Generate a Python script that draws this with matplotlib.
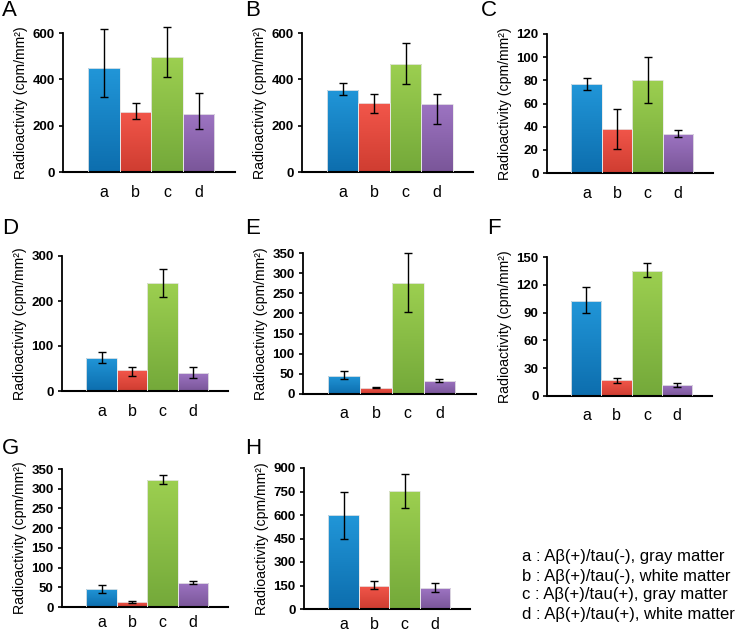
import numpy as np
import matplotlib
matplotlib.use("Agg")
import matplotlib.pyplot as plt
from matplotlib.colors import LinearSegmentedColormap

plt.rcParams["font.family"] = ["Liberation Sans", "DejaVu Sans"]

# ---- data ----
groups = ["a", "b", "c", "d"]
panels = ["A", "B", "C", "D", "E", "F", "G", "H"]

means = [
    [448, 260, 496, 249],   # A
    [355, 296, 468, 295],   # B
    [76.6, 38.2, 80.1, 34.1],  # C
    [74, 46, 240, 40],      # D
    [45, 16, 275, 33],      # E
    [103, 17, 135, 12],     # F
    [46, 13, 321, 62],      # G
    [597, 149, 753, 132],   # H
]
err_top = [
    [617, 296, 625, 340],
    [384, 337, 557, 338],
    [82.1, 55.2, 100.1, 37.0],
    [87, 53, 272, 53],
    [57, 17, 349, 37],
    [118, 19, 143, 14],
    [56, 14, 334, 65],
    [746, 179, 859, 164],
]
err_bottom = [
    [325, 228, 412, 187],
    [331, 255, 381, 209],
    [71.7, 20.5, 60.7, 31.2],
    [63, 33, 210, 28],
    [37, 14, 203, 31],
    [90, 14, 128, 10],
    [36, 11, 311, 59],
    [448, 128, 644, 107],
]
y_max = [600, 600, 120, 300, 350, 150, 350, 900]
y_step = [200, 200, 20, 100, 50, 30, 50, 150]

legend_lines = [
    "a : Aβ(+)/tau(-), gray matter",
    "b : Aβ(+)/tau(-), white matter",
    "c : Aβ(+)/tau(+), gray matter",
    "d : Aβ(+)/tau(+), white matter",
]

# (top colour, bottom colour) for each bar
bar_colors = [("#2196d8", "#0d6eae"), ("#f2564a", "#cf3d31"),
              ("#9ccf50", "#74a93a"), ("#9d74c2", "#7a5699")]

# axes boxes in pixels: left, right, top(ymax), bottom(0)
boxes = [
    (63, 235, 33, 172), (302, 473, 33, 172), (547, 713, 34, 173),
    (62, 228, 256, 391), (303, 476, 253, 394), (547, 712, 257, 396),
    (62, 228, 469, 607), (304, 470, 468, 609),
]
letter_pos = [(2, 11), (245, 11), (481, 11), (2, 229), (245, 229), (487, 229),
              (2, 448), (245, 448)]

W, H = 740, 635
fig = plt.figure(figsize=(W / 100, H / 100), dpi=100)

for i, p in enumerate(panels):
    l, r, t, b = boxes[i]
    ax = fig.add_axes([l / W, 1 - b / H, (r - l) / W, (b - t) / H])
    x = np.arange(4)
    m = np.array(means[i])
    lo = m - np.array(err_bottom[i])
    hi = np.array(err_top[i]) - m

    bars = ax.bar(x, m, width=1.0, color="none", edgecolor="#e8e8e8",
                  linewidth=0.6, zorder=3)
    for j, rect in enumerate(bars):
        cmap = LinearSegmentedColormap.from_list("g", [bar_colors[j][1], bar_colors[j][0]])
        grad = np.linspace(0, 1, 64).reshape(-1, 1)
        im = ax.imshow(grad, cmap=cmap, origin="lower", aspect="auto",
                       extent=(x[j] - 0.5, x[j] + 0.5, 0, m[j]), zorder=2)
        im.set_clip_path(rect)

    ax.errorbar(x, m, yerr=[lo, hi], fmt="none", ecolor="black",
                elinewidth=1.0, capsize=3, capthick=1.0, zorder=4, clip_on=False)

    ax.set_xlim(-1.3, 4.15)
    ax.set_ylim(0, y_max[i])
    ax.set_yticks(np.arange(0, y_max[i] + 1, y_step[i]))
    ax.set_xticks(x)
    ax.set_xticklabels(groups, fontsize=11.5)
    ax.tick_params(axis="x", length=0, pad=6 if i >= 6 else 9)
    ax.tick_params(axis="y", direction="out", length=3, width=1.2, pad=3,
                   labelsize=9.5)
    for lab in ax.get_yticklabels():
        lab.set_fontweight("bold")
    ax.spines["top"].set_visible(False)
    ax.spines["right"].set_visible(False)
    ax.spines["left"].set_linewidth(1.3)
    ax.spines["bottom"].set_linewidth(1.5)
    ax.set_ylabel("Radioactivity (cpm/mm²)", fontsize=10.2, labelpad=3)

    lx, ly = letter_pos[i]
    fig.text(lx / W, 1 - ly / H, p, fontsize=16, va="center", ha="left")

for k, line in enumerate(legend_lines):
    fig.text(522 / W, 1 - (557 + 19 * k) / H, line, fontsize=12,
             va="center", ha="left")

fig.savefig("out.png", dpi=100)
